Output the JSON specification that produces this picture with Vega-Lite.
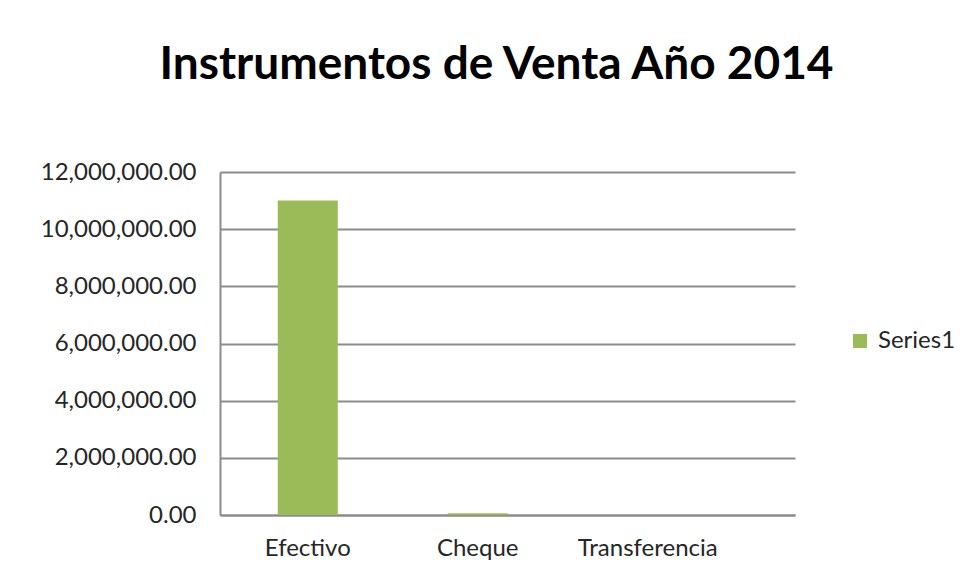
{
  "$schema": "https://vega.github.io/schema/vega-lite/v6.json",
  "width": 575,
  "height": 343,
  "autosize": {"type": "none"},
  "padding": {"left": 220, "top": 172, "right": 176, "bottom": 64},
  "background": "white",
  "config": {
    "view": {"stroke": null},
    "font": "Lato"
  },
  "title": {
    "text": "Instrumentos de Venta Año 2014",
    "font": "Lato",
    "fontSize": 46,
    "fontWeight": "bold",
    "color": "#000000",
    "anchor": "middle",
    "dx": -11,
    "offset": 35,
    "baseline": "alphabetic"
  },
  "data": {
    "values": [
      {"instrumento": "Efectivo", "valor": 11000000, "serie": "Series1"},
      {"instrumento": "Cheque", "valor": 60000, "serie": "Series1"},
      {"instrumento": "Transferencia", "valor": 0, "serie": "Series1"}
    ]
  },
  "mark": {"type": "bar"},
  "encoding": {
    "x": {
      "field": "instrumento",
      "type": "nominal",
      "sort": ["Efectivo", "Cheque", "Transferencia"],
      "scale": {"paddingInner": 0.647, "paddingOuter": 0.515, "align": 0.33},
      "axis": {
        "title": null,
        "labelAngle": 0,
        "labelFontSize": 24,
        "labelColor": "#262626",
        "labelPadding": 21,
        "ticks": false,
        "domainColor": "#8c8c8c",
        "domainWidth": 2
      }
    },
    "y": {
      "field": "valor",
      "type": "quantitative",
      "scale": {"domain": [0, 12000000], "nice": false},
      "axis": {
        "title": null,
        "values": [0, 2000000, 4000000, 6000000, 8000000, 10000000, 12000000],
        "format": ",.2f",
        "labelFontSize": 24,
        "labelColor": "#262626",
        "labelPadding": 24,
        "ticks": false,
        "domainColor": "#8c8c8c",
        "domainWidth": 2,
        "grid": true,
        "gridColor": "#8c8c8c",
        "gridWidth": 2
      }
    },
    "color": {
      "field": "serie",
      "type": "nominal",
      "scale": {"range": ["#9BBB59"]},
      "legend": {
        "title": null,
        "orient": "none",
        "legendX": 628,
        "legendY": 157,
        "symbolType": "square",
        "symbolSize": 196,
        "symbolStrokeWidth": 0,
        "labelFontSize": 24,
        "labelColor": "#262626",
        "labelOffset": 6
      }
    }
  }
}
